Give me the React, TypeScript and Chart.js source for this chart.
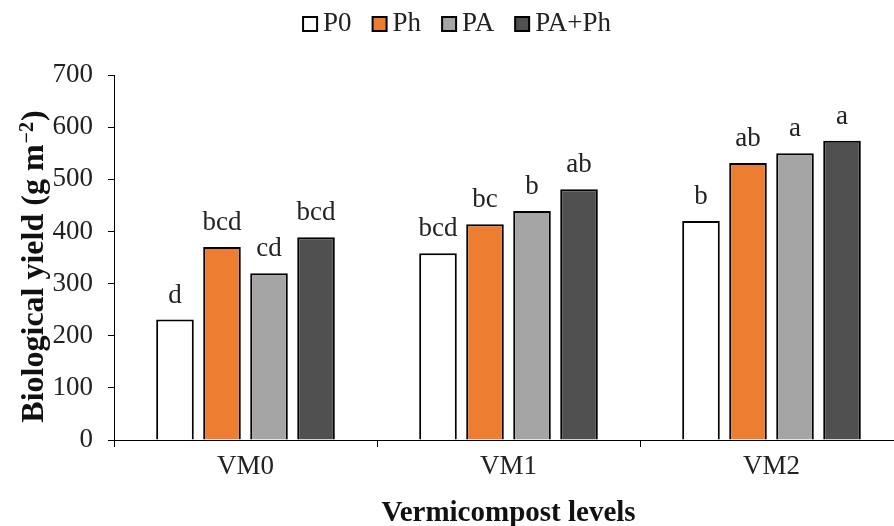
import React, { useEffect, useRef } from "react";
import { Chart, registerables } from "chart.js";

Chart.register(...registerables);

const categories = ["VM0", "VM1", "VM2"];
const seriesNames = ["P0", "Ph", "PA", "PA+Ph"];
const p0 = [231, 358, 420];
const ph = [370, 414, 531];
const pa = [320, 439, 550];
const paph = [389, 481, 574];
const letters = [
  ["d", "bcd", "b"],
  ["bcd", "bc", "ab"],
  ["cd", "b", "a"],
  ["bcd", "ab", "a"],
];
const colors = ["#ffffff", "#ED7D31", "#A5A5A5", "#505050"];
const yTicks = [0, 100, 200, 300, 400, 500, 600, 700];
const yTitleParts = ["Biological yield (g m", "−2", ")"];

const FONT = "'Liberation Serif', 'Times New Roman', serif";
const FS = 27;
const FSB = 29;

const labelPlugin = {
  id: "letters",
  afterDatasetsDraw(chart: any) {
    const ctx = chart.ctx;
    ctx.save();
    ctx.font = `${FS}px ${FONT}`;
    ctx.fillStyle = "#222";
    ctx.textAlign = "center";
    ctx.textBaseline = "alphabetic";
    chart.data.datasets.forEach((ds: any, i: number) => {
      const meta = chart.getDatasetMeta(i);
      meta.data.forEach((el: any, j: number) => {
        ctx.fillText(letters[i][j], el.x, el.y - 17);
      });
    });
    ctx.restore();
  },
};

const legendPlugin = {
  id: "customLegend",
  afterDraw(chart: any) {
    const ctx = chart.ctx;
    ctx.save();
    ctx.font = `${FS}px ${FONT}`;
    const box = 14;
    const gap = 6;
    const spacing = 21;
    const widths = seriesNames.map((n) => box + gap + ctx.measureText(n).width);
    const total = widths.reduce((a, b) => a + b, 0) + spacing * (seriesNames.length - 1);
    let x = 457 - total / 2;
    const baseline = 31;
    const boxTop = 17;
    seriesNames.forEach((n, i) => {
      ctx.fillStyle = colors[i];
      ctx.fillRect(x, boxTop, box, box);
      ctx.lineWidth = 2;
      ctx.strokeStyle = "#000";
      ctx.strokeRect(x, boxTop, box, box);
      ctx.fillStyle = "#222";
      ctx.textAlign = "left";
      ctx.textBaseline = "alphabetic";
      ctx.fillText(n, x + box + gap, baseline);
      x += widths[i] + spacing;
    });
    ctx.restore();
  },
};

const yTitlePlugin = {
  id: "yTitle",
  afterDraw(chart: any) {
    const ctx = chart.ctx;
    const area = chart.chartArea;
    ctx.save();
    const mainFont = `bold 32px ${FONT}`;
    const supFont = `bold 20px ${FONT}`;
    ctx.font = mainFont;
    const w0 = ctx.measureText(yTitlePartsSafe(0)).width;
    const w2 = ctx.measureText(yTitlePartsSafe(2)).width;
    ctx.font = supFont;
    const w1 = ctx.measureText(yTitlePartsSafe(1)).width + 2;
    const total = w0 + w1 + w2;
    const cy = (area.top + area.bottom) / 2 + 9;
    ctx.translate(43, cy);
    ctx.rotate(-Math.PI / 2);
    ctx.fillStyle = "#111";
    ctx.textAlign = "left";
    ctx.textBaseline = "alphabetic";
    let x = -total / 2;
    ctx.font = mainFont;
    ctx.fillText(yTitlePartsSafe(0), x, 0);
    x += w0 + 1;
    ctx.font = supFont;
    ctx.fillText(yTitlePartsSafe(1), x, -10);
    x += w1 - 1;
    ctx.font = mainFont;
    ctx.fillText(yTitlePartsSafe(2), x, 0);
    ctx.restore();
  },
};

function yTitlePartsSafe(i: number) {
  return yTitleParts[i];
}

export default function App() {
  const ref = useRef<HTMLCanvasElement>(null);
  useEffect(() => {
    const values = [p0, ph, pa, paph];
    const chart = new Chart(ref.current!, {
      type: "bar",
      data: {
        labels: categories,
        datasets: seriesNames.map((n, i) => ({
          label: n,
          data: values[i],
          backgroundColor: colors[i],
          borderColor: "#000",
          borderWidth: 2,
          categoryPercentage: 0.715,
          barPercentage: 0.8,
        })),
      },
      options: {
        responsive: false,
        animation: false,
        layout: { padding: { left: 0, right: 7, top: 75, bottom: 0 } },
        plugins: {
          legend: { display: false },
          tooltip: { enabled: false },
        },
        scales: {
          x: {
            grid: {
              display: true,
              drawOnChartArea: false,
              offset: true,
              color: "#000",
              tickLength: 7,
            },
            border: { color: "#000", width: 1 },
            ticks: { font: { family: FONT, size: FS }, color: "#222", padding: 4 },
            afterFit(scale: any) {
              scale.height = 86;
            },
            title: {
              display: true,
              text: "Vermicompost levels",
              font: { family: FONT, size: FSB, weight: "bold" },
              color: "#111",
              padding: { top: 8, bottom: -5 },
            },
          },
          y: {
            min: 0,
            max: 700,
            afterBuildTicks(scale: any) {
              scale.ticks = yTicks.map((v) => ({ value: v }));
            },
            afterFit(scale: any) {
              scale.width = 114;
            },
            grid: {
              display: true,
              drawOnChartArea: false,
              color: "#000",
              tickLength: 6,
            },
            border: { color: "#000", width: 1 },
            ticks: { font: { family: FONT, size: FS }, color: "#222", padding: 15 },
            title: { display: false },
          },
        },
      },
      plugins: [labelPlugin, legendPlugin, yTitlePlugin],
    });
    return () => chart.destroy();
  }, []);
  return (
    <div
      style={{
        position: "fixed",
        left: 0,
        top: 0,
        width: 894,
        height: 526,
        overflow: "hidden",
        background: "#fff",
      }}
    >
      <canvas ref={ref} width={910} height={526} style={{ display: "block" }} />
    </div>
  );
}
